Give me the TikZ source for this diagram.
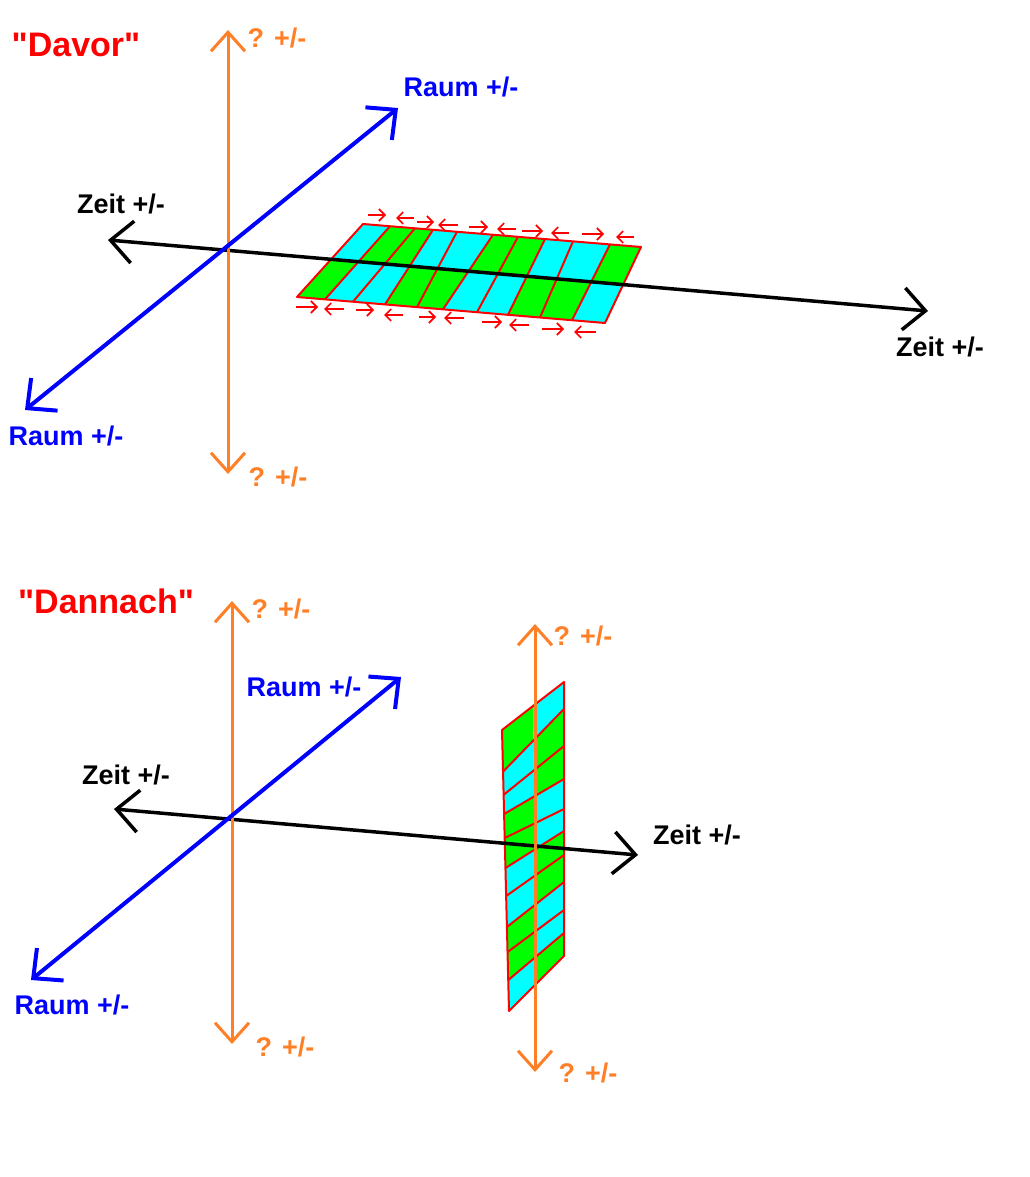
\documentclass[tikz,border=0pt]{standalone}
\usepackage{fontspec}
\setmainfont{Liberation Sans}[Ligatures=TeXOff]
\usepackage{tikz}
\usetikzlibrary{arrows.meta}
\usetikzlibrary{calc}
\definecolor{orangeax}{RGB}{255,127,39}
\definecolor{cy}{RGB}{0,255,255}
\definecolor{gr}{RGB}{0,255,0}

\begin{document}
\begin{tikzpicture}[x=1pt,y=-1pt,
	txt/.style={inner sep=0pt, font=\fontsize{27}{30}\selectfont\bfseries},
	titel/.style={inner sep=0pt, text=red, font=\fontsize{34}{38}\selectfont\bfseries},
	zeitachse/.style={draw=black, line width=3.5pt, {Straight Barb[length=22pt,width=42pt]}-{Straight Barb[length=22pt,width=42pt]}},
	raumachse/.style={draw=blue, line width=4pt, {Straight Barb[length=22pt,width=42pt]}-{Straight Barb[length=22pt,width=42pt]}},
	frageachse/.style={draw=orangeax, line width=3pt, {Straight Barb[length=19pt,width=34pt]}-{Straight Barb[length=19pt,width=34pt]}},
	zelle/.style={draw=red, line width=2pt, line join=round},
	pfeil/.style={draw=red, line width=1.6pt, -{Straight Barb[length=6pt,width=12pt]}}]
	\useasboundingbox (0,0) rectangle (1029,1177);

	\coordinate (TL) at (363,224);
	\coordinate (TR) at (641,247);
	\coordinate (BR) at (605,323);
	\coordinate (BL) at (297,297);
	\foreach \i/\xo/\xu in {0/363/297, 1/390/325, 2/415/353, 3/433/385, 4/457/417, 5/493/443, 6/518/477, 7/545/508, 8/573/540, 9/610/572, 10/641/605} {
		\coordinate (t\i) at ($(TL)!{(\xo-363)/278}!(TR)$);
		\coordinate (b\i) at ($(BL)!{(\xu-297)/308}!(BR)$);
		\coordinate (m\i) at ($(t\i)!0.5!(b\i)$);
	}
	\foreach \i/\j/\up/\dn in {0/1/cy/gr, 1/2/gr/cy, 2/3/gr/cy, 3/4/cy/gr, 4/5/cy/gr, 5/6/gr/cy, 6/7/gr/cy, 7/8/cy/gr, 8/9/cy/gr, 9/10/gr/cy} {
		\fill[\up] (t\i) -- (t\j) -- (m\j) -- (m\i) -- cycle;
		\fill[\dn] (m\i) -- (m\j) -- (b\j) -- (b\i) -- cycle;
	}
	\draw[zelle] (t0) -- (t10) -- (b10) -- (b0) -- cycle;
	\foreach \i in {1,...,9}
		\draw[zelle] (t\i) -- (b\i);

	\foreach \a/\b/\y in {368/386/215, 414/396/218, 417/434/222, 458/438/225, 469/488/227, 516/497/229, 522/543/231, 569/551/233, 582/604/234, 634/616/237}
		\draw[pfeil] (\a,\y) -- (\b,\y);
	\foreach \a/\b/\y in {296/318/307, 344/324/309, 356/374/310, 403/384/315, 419/436/317, 464/444/318, 482/502/322, 529/509/325, 542/564/329, 596/574/332}
		\draw[pfeil] (\a,\y) -- (\b,\y);

	\coordinate (zeitL1) at (108,240);
	\coordinate (zeitR1) at (928,311);
	\coordinate (raumL1) at (25,410);
	\coordinate (raumR1) at (398,108);
	\coordinate (frageO1) at (228,30);
	\coordinate (frageU1) at (228,474);
	\draw[zeitachse] (zeitL1) -- (zeitR1);
	\draw[frageachse] (frageO1) -- (frageU1);
	\draw[raumachse] (raumL1) -- (raumR1);

	\node[titel] (davor) at (76,45) {"Davor"};
	\node[txt, text=orangeax] (frage1o) at (277,38) {? +/-};
	\node[txt, text=orangeax] (frage1u) at (278,477) {? +/-};
	\node[txt, text=blue] (raum1o) at (461,87) {Raum +/-};
	\node[txt, text=blue] (raum1u) at (66,436) {Raum +/-};
	\node[txt] (zeit1l) at (121,204) {Zeit +/-};
	\node[txt] (zeit1r) at (940,347) {Zeit +/-};

	\foreach \i/\yl/\yr in {0/730/682, 1/772/709, 2/795/746, 3/814/779, 4/838/809, 5/868/831, 6/896/855, 7/927/882, 8/952/910, 9/980/933, 10/1011/956} {
		\coordinate (l\i) at ({502+0.7*\i},\yl);
		\coordinate (r\i) at (564,\yr);
		\coordinate (c\i) at ($(l\i)!0.5!(r\i)$);
	}
	\foreach \i/\j/\li/\re in {0/1/gr/cy, 1/2/cy/gr, 2/3/cy/gr, 3/4/gr/cy, 4/5/gr/cy, 5/6/cy/gr, 6/7/cy/gr, 7/8/gr/cy, 8/9/gr/cy, 9/10/cy/gr} {
		\fill[\li] (l\i) -- (c\i) -- (c\j) -- (l\j) -- cycle;
		\fill[\re] (c\i) -- (r\i) -- (r\j) -- (c\j) -- cycle;
	}
	\draw[zelle] (l0) -- (r0) -- (r10) -- (l10) -- cycle;
	\foreach \i in {1,...,9}
		\draw[zelle] (l\i) -- (r\i);

	\coordinate (zeitL2) at (114,809);
	\coordinate (zeitR2) at (638,855);
	\coordinate (raumL2) at (31,980);
	\coordinate (raumR2) at (401,677);
	\coordinate (frageO2) at (232,601);
	\coordinate (frageU2) at (232,1044);
	\coordinate (frageO3) at (535,624);
	\coordinate (frageU3) at (535,1072);
	\draw[zeitachse] (zeitL2) -- (zeitR2);
	\draw[frageachse] (frageO2) -- (frageU2);
	\draw[frageachse] (frageO3) -- (frageU3);
	\draw[raumachse] (raumL2) -- (raumR2);

	\node[titel] (dannach) at (106,601) {"Dannach"};
	\node[txt, text=orangeax] (frage2o) at (281,609) {? +/-};
	\node[txt, text=orangeax] (frage2u) at (285,1047) {? +/-};
	\node[txt, text=orangeax] (frage3o) at (583,636) {? +/-};
	\node[txt, text=orangeax] (frage3u) at (588,1073) {? +/-};
	\node[txt, text=blue] (raum2o) at (304,687) {Raum +/-};
	\node[txt, text=blue] (raum2u) at (72,1005) {Raum +/-};
	\node[txt] (zeit2l) at (126,775) {Zeit +/-};
	\node[txt] (zeit2r) at (697,835) {Zeit +/-};
\end{tikzpicture}
\end{document}
